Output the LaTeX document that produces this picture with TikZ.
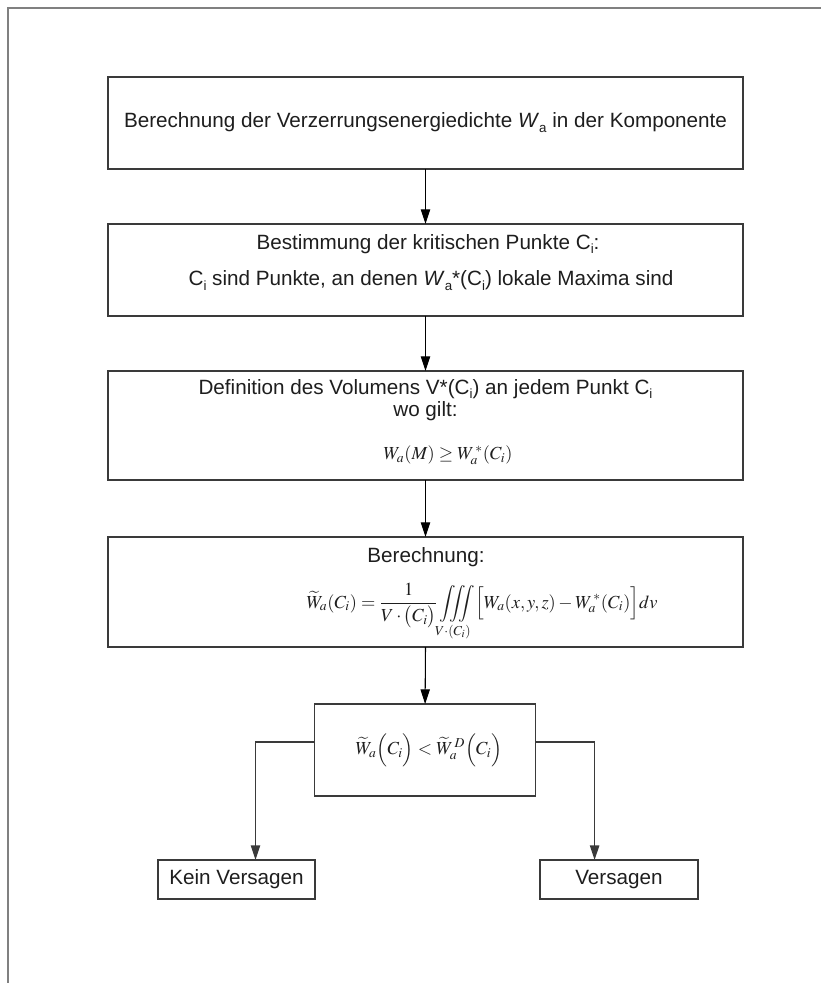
\documentclass[tikz,border=0pt]{standalone}
\usepackage{amsmath}
\usepackage{mathptmx}
\usepackage[no-math]{fontspec}
\setmainfont{Liberation Sans}
\usetikzlibrary{arrows.meta}
\definecolor{framec}{HTML}{808080}
\definecolor{boxc}{HTML}{3A3A3A}
\definecolor{txtc}{HTML}{1E1E1E}
\newcommand\sbs[1]{\raisebox{-0.45ex}{\fontsize{10}{10}\selectfont #1}}
\tikzset{
  frameline/.style={draw=framec, line width=1.5pt},
  box/.style={draw=boxc, line width=1.1pt, inner sep=0pt, outer sep=0pt, fill=white},
  lbl/.style={inner sep=0pt, text=txtc, font=\fontsize{15.5}{18}\selectfont},
  mth/.style={inner sep=0pt, text=txtc, font=\fontsize{13.8}{16}\selectfont},
  arr/.style={draw=black, line width=0.8pt, -{Triangle[length=11pt,width=7pt]}},
  branch/.style={draw=boxc, line width=1.1pt, -{Triangle[length=11pt,width=7pt]}}
}
\begin{document}
\begin{tikzpicture}[x=0.75pt,y=-0.75pt]
\useasboundingbox (0,0) rectangle (821,983);
\draw[frameline] (821,8) -- (8,8) -- (8,983);

% boxes
\node[box, minimum width=476.25pt, minimum height=69pt] (b1) at (425.5,123) {};
\node[box, minimum width=476.25pt, minimum height=69pt] (b2) at (425.5,270) {};
\node[box, minimum width=476.25pt, minimum height=81.75pt] (b3) at (425.5,425.5) {};
\node[box, minimum width=476.25pt, minimum height=82.5pt] (b4) at (425.5,592) {};
\node[box, minimum width=165.75pt, minimum height=69pt] (b5) at (425.1,750) {};
\node[box, minimum width=117.75pt, minimum height=29.25pt] (kein) at (236.5,879.5) {};
\node[box, minimum width=118.5pt, minimum height=29.25pt] (vers) at (619,879.5) {};

% texts
\node[lbl] (t1) at (425.5,123) {Berechnung der Verzerrungsenergiedichte \textit{W}\sbs{a} in der Komponente};
\node[lbl] (t2a) at (428,244) {Bestimmung der kritischen Punkte C\sbs{i}:};
\node[lbl] (t2b) at (431,281) {C\sbs{i} sind Punkte, an denen \textit{W}\sbs{a}*(C\sbs{i}) lokale Maxima sind};
\node[lbl] (t3a) at (425.5,389) {Definition des Volumens V*(C\sbs{i}) an jedem Punkt C\sbs{i}};
\node[lbl] (t3b) at (425.5,411) {wo gilt:};
\node[mth] (t3c) at (448,455) {$W_a(M)\geq W_a^{\,*}(C_i)$};
\node[lbl] (t4a) at (426,557) {Berechnung:};
\node[mth] (t4b) at (482,612) {$\displaystyle\widetilde{W}_a(C_i)=\frac{1}{V\cdot\bigl(C_i\bigr)}\iiint\limits_{V\cdot(C_i)}\Bigl[W_a(x,y,z)-W_a^{\,*}(C_i)\Bigr]dv$};
\node[mth] (t5) at (429,750) {$\widetilde{W}_a\Bigl(C_i\Bigr)<\widetilde{W}_a^{\,D}\Bigl(C_i\Bigr)$};
\node[lbl] (tk) at (236.5,879.5) {Kein Versagen};
\node[lbl] (tv) at (619,879.5) {Versagen};

% connectors
\draw[arr] (b1.south) -- (b2.north);
\draw[arr] (b2.south) -- (b3.north);
\draw[arr] (b3.south) -- (b4.north);
\draw[arr] (b4.south) -- (b5.north);
\coordinate (bl) at (255.5,742);
\coordinate (br) at (594.6,742);
\draw[branch] (b5.west|-bl) -- (bl) -- (bl|-kein.north);
\draw[branch] (b5.east|-br) -- (br) -- (br|-vers.north);
\end{tikzpicture}
\end{document}
